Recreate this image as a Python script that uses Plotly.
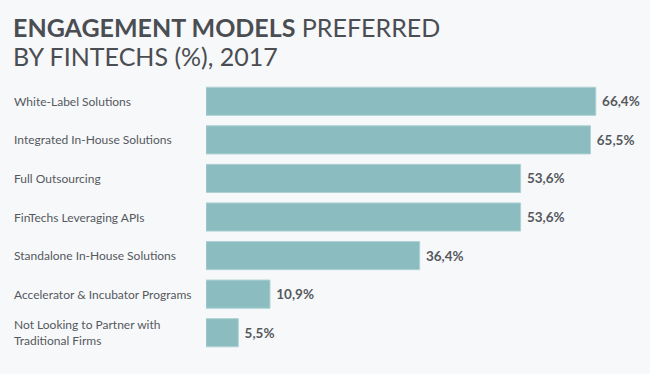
import plotly.graph_objects as go

categories = [
    "White-Label Solutions",
    "Integrated In-House Solutions",
    "Full Outsourcing",
    "FinTechs Leveraging APIs",
    "Standalone In-House Solutions",
    "Accelerator & Incubator Programs",
    "Not Looking to Partner with<br>Traditional Firms",
]
values = [66.4, 65.5, 53.6, 53.6, 36.4, 10.9, 5.5]
value_labels = ["66,4%", "65,5%", "53,6%", "53,6%", "36,4%", "10,9%", "5,5%"]
title_lines = ["<b>ENGAGEMENT MODELS</b> PREFERRED", "BY FINTECHS (%), 2017"]

W, H = 650, 374
ml, mr, mt, mb = 206, 4, 82, 22
pw = W - ml - mr
ph = H - mt - mb
xmax = pw / 5.87

TEXT = "#55585d"

fig = go.Figure()
fig.add_trace(go.Bar(
    x=values, y=categories, orientation="h",
    marker=dict(color="#8bbdc0", line=dict(color="#aed2d3", width=1)),
    text=[" " + v for v in value_labels], textposition="outside",
    textfont=dict(family="Lato", size=13.5, color=TEXT, weight="bold"),
    cliponaxis=False, hoverinfo="skip",
))

annotations = []
for c in categories:
    annotations.append(dict(
        x=(12 - ml) / pw, xref="paper", y=c, yref="y",
        text=c, showarrow=False, xanchor="left", yanchor="middle", align="left",
        font=dict(family="Lato", size=12, color=TEXT),
    ))

for line, ypx in zip(title_lines, [26.8, 56.4]):
    annotations.append(dict(
        x=(11 - ml) / pw, xref="paper", y=1 + (mt - ypx) / ph, yref="paper",
        text=line, showarrow=False, xanchor="left", yanchor="middle", align="left",
        font=dict(family="Lato", size=25, color="#4a4d52"),
    ))

fig.update_layout(
    width=W, height=H,
    margin=dict(l=ml, r=mr, t=mt, b=mb),
    paper_bgcolor="#f7f8fa", plot_bgcolor="#f7f8fa",
    bargap=0.27,
    showlegend=False,
    xaxis=dict(range=[0, xmax], visible=False, fixedrange=True),
    yaxis=dict(autorange="reversed", showticklabels=False, showgrid=False,
               zeroline=False, ticks="", fixedrange=True),
    annotations=annotations,
)

fig.write_html(
    "out.html",
    config={"displayModeBar": False},
    post_script="document.body.style.margin='0';document.body.style.overflow='hidden';window.scrollTo(0,0);",
)
